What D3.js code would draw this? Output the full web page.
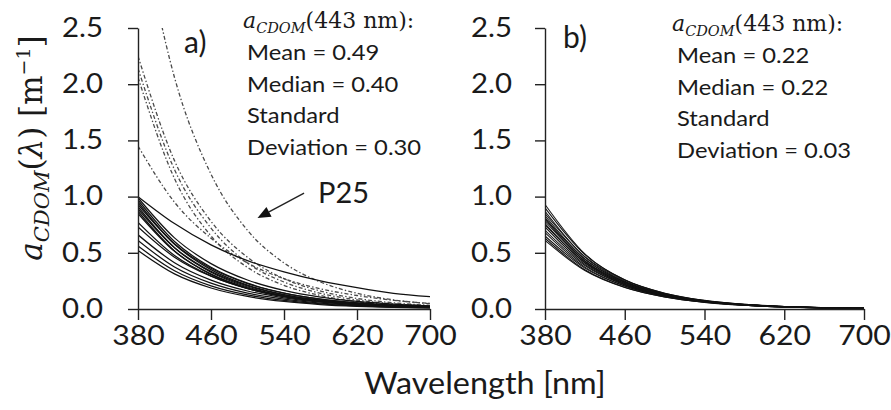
<!DOCTYPE html>
<html><head><meta charset="utf-8">
<script src="https://cdn.jsdelivr.net/npm/d3@7"></script>
<style>body{margin:0;background:#fff}</style>
</head><body>
<svg id="chart" width="891" height="410"></svg>
<script>
// ---------- data ----------
const wavelengths = [380, 420, 460, 500, 540, 580, 620, 660, 700];
const xTickValues = [380, 460, 540, 620, 700];
const yTickValues = [0, 0.5, 1, 1.5, 2, 2.5];

const p25Curve = [1.00, 0.76, 0.57, 0.43, 0.33, 0.25, 0.19, 0.14, 0.11];

const panelASolid = [
  [0.99, 0.633, 0.404, 0.258, 0.165, 0.105, 0.067, 0.043, 0.028],
  [0.97, 0.600, 0.371, 0.230, 0.142, 0.088, 0.054, 0.034, 0.021],
  [0.95, 0.576, 0.350, 0.212, 0.129, 0.078, 0.047, 0.029, 0.017],
  [0.93, 0.580, 0.362, 0.226, 0.141, 0.088, 0.055, 0.034, 0.021],
  [0.91, 0.545, 0.327, 0.196, 0.117, 0.070, 0.042, 0.025, 0.015],
  [0.89, 0.546, 0.335, 0.206, 0.126, 0.078, 0.048, 0.029, 0.018],
  [0.87, 0.517, 0.308, 0.183, 0.109, 0.065, 0.038, 0.023, 0.014],
  [0.85, 0.513, 0.310, 0.187, 0.113, 0.068, 0.041, 0.025, 0.015],
  [0.77, 0.476, 0.295, 0.182, 0.113, 0.070, 0.043, 0.027, 0.017],
  [0.73, 0.461, 0.291, 0.184, 0.116, 0.073, 0.046, 0.029, 0.018],
  [0.66, 0.412, 0.257, 0.160, 0.100, 0.062, 0.039, 0.024, 0.015],
  [0.61, 0.374, 0.230, 0.141, 0.087, 0.053, 0.033, 0.020, 0.012],
  [0.56, 0.340, 0.206, 0.125, 0.076, 0.046, 0.028, 0.017, 0.010],
  [0.52, 0.312, 0.187, 0.112, 0.067, 0.040, 0.024, 0.014, 0.009]
];

const panelADashed = [
  [3.54, 2.06, 1.20, 0.70, 0.41, 0.24, 0.14, 0.081, 0.047],
  [2.25, 1.32, 0.78, 0.46, 0.27, 0.16, 0.094, 0.055, 0.032],
  [2.14, 1.24, 0.72, 0.41, 0.24, 0.14, 0.080, 0.046, 0.027],
  [2.06, 1.16, 0.65, 0.37, 0.21, 0.12, 0.065, 0.037, 0.021],
  [1.45, 0.95, 0.63, 0.41, 0.27, 0.18, 0.12, 0.077, 0.050]
];

const panelBCurves = [
  [0.93, 0.490, 0.259, 0.136, 0.072, 0.038, 0.020, 0.011, 0.006],
  [0.90, 0.484, 0.260, 0.140, 0.075, 0.041, 0.022, 0.012, 0.006],
  [0.87, 0.462, 0.246, 0.131, 0.069, 0.037, 0.020, 0.010, 0.006],
  [0.85, 0.466, 0.256, 0.141, 0.077, 0.042, 0.023, 0.013, 0.007],
  [0.83, 0.446, 0.240, 0.129, 0.069, 0.037, 0.020, 0.011, 0.006],
  [0.81, 0.441, 0.240, 0.131, 0.071, 0.039, 0.021, 0.012, 0.006],
  [0.80, 0.425, 0.226, 0.120, 0.064, 0.034, 0.018, 0.010, 0.005],
  [0.78, 0.428, 0.235, 0.129, 0.071, 0.039, 0.021, 0.012, 0.006],
  [0.76, 0.409, 0.220, 0.118, 0.064, 0.034, 0.018, 0.010, 0.005],
  [0.75, 0.415, 0.230, 0.127, 0.070, 0.039, 0.022, 0.012, 0.007],
  [0.73, 0.397, 0.216, 0.118, 0.064, 0.035, 0.019, 0.010, 0.006],
  [0.70, 0.387, 0.214, 0.119, 0.066, 0.036, 0.020, 0.011, 0.006],
  [0.68, 0.373, 0.205, 0.112, 0.062, 0.034, 0.019, 0.010, 0.006],
  [0.65, 0.364, 0.204, 0.114, 0.064, 0.036, 0.020, 0.011, 0.006],
  [0.63, 0.349, 0.193, 0.107, 0.059, 0.033, 0.018, 0.010, 0.006],
  [0.61, 0.342, 0.191, 0.107, 0.060, 0.034, 0.019, 0.010, 0.006]
];

const statsA = ["Mean = 0.49", "Median = 0.40", "Standard", "Deviation = 0.30"];
const statsB = ["Mean = 0.22", "Median = 0.22", "Standard", "Deviation = 0.03"];
const statsHeader = ["a", "CDOM", "(443 nm):"];
const panelLabels = ["a)", "b)"];
const xAxisTitle = "Wavelength [nm]";
const p25Label = "P25";
const p25ArrowTip = [511, 0.81];
const p25ArrowTail = [562, 1.03];

// ---------- drawing ----------
const SANS = "Lato, 'Open Sans', sans-serif";
const SERIF = "'DejaVu Serif', 'Liberation Serif', serif";
const INK = "#1a1a1a";
const svg = d3.select("#chart");

function stretch(sel, k) {
  sel.each(function () {
    const n = this;
    const L = n.getComputedTextLength();
    d3.select(n).attr("textLength", L * k).attr("lengthAdjust", "spacingAndGlyphs");
  });
}

const panels = [
  { left: 138, right: 430, label: panelLabels[0], labelX: 184, labelY: 53,
    solid: panelASolid, dashed: panelADashed, p25: true,
    stats: statsA, headX: 243, headY: 28, statX: 247, statY: 60, tickPad: 25, lw: 1.25 },
  { left: 545, right: 864, label: panelLabels[1], labelX: 563, labelY: 48,
    solid: panelBCurves, dashed: [], p25: false,
    stats: statsB, headX: 672, headY: 31, statX: 677, statY: 63, tickPad: 23, lw: 1.05 }
];

const defs = svg.append("defs");

panels.forEach((p, pi) => {
  const x = d3.scaleLinear().domain([380, 700]).range([p.left, p.right]);
  const y = d3.scaleLinear().domain([0, 2.5]).range([309, 28]);

  const clipId = "clip" + pi;
  defs.append("clipPath").attr("id", clipId).append("rect")
    .attr("x", x(380)).attr("y", y(2.5)).attr("width", x(700) - x(380)).attr("height", y(0) - y(2.5) + 2);

  const line = d3.line()
    .x((d, i) => x(wavelengths[i]))
    .y(d => y(d))
    .curve(d3.curveMonotoneX);

  const plot = svg.append("g").attr("clip-path", `url(#${clipId})`);

  plot.selectAll("path.dash").data(p.dashed).join("path")
    .attr("class", "dash")
    .attr("d", line)
    .attr("fill", "none")
    .attr("stroke", "#4a4a4a")
    .attr("stroke-width", 1.3)
    .attr("stroke-dasharray", "4,2.2,1.4,2.2");

  plot.selectAll("path.solid").data(p.solid).join("path")
    .attr("class", "solid")
    .attr("d", line)
    .attr("fill", "none")
    .attr("stroke", "#111")
    .attr("stroke-width", p.lw);

  if (p.p25) {
    plot.append("path").datum(p25Curve)
      .attr("d", line).attr("fill", "none").attr("stroke", "#111").attr("stroke-width", 1.25);
  }

  // axes
  const gy = svg.append("g").attr("transform", `translate(${x(380)},0)`)
    .call(d3.axisLeft(y).tickValues(yTickValues).tickSize(10).tickSizeOuter(0)
      .tickPadding(p.tickPad).tickFormat(d3.format(".1f")));
  const gx = svg.append("g").attr("transform", `translate(0,${y(0)})`)
    .call(d3.axisBottom(x).tickValues(xTickValues).tickSize(11).tickSizeOuter(0)
      .tickPadding(7).tickFormat(d3.format("d")));
  [gy, gx].forEach(g => {
    g.select(".domain").attr("stroke", "#222").attr("stroke-width", 1.4);
    g.selectAll(".tick line").attr("stroke", "#222").attr("stroke-width", 1.4);
    g.selectAll(".tick text").attr("font-family", SANS).attr("font-size", 26).attr("fill", INK);
  });
  stretch(gy.selectAll(".tick text"), 1.13);
  stretch(gx.selectAll(".tick text"), 1.16);

  // panel letter
  svg.append("text").attr("x", p.labelX).attr("y", p.labelY)
    .attr("font-family", SANS).attr("font-size", 30).attr("fill", INK).text(p.label);

  // statistics header a_CDOM(443 nm):
  const hd = svg.append("text").attr("x", p.headX).attr("y", p.headY)
    .attr("font-family", SERIF).attr("font-size", 22).attr("fill", INK);
  hd.append("tspan").attr("font-style", "italic").text(statsHeader[0]);
  hd.append("tspan").attr("font-style", "italic").attr("font-size", 14.5).attr("dy", 5).text(statsHeader[1]);
  hd.append("tspan").attr("dy", -5).text(statsHeader[2]);

  const st = svg.append("g").selectAll("text").data(p.stats).join("text")
    .attr("x", p.statX).attr("y", (d, i) => p.statY + i * 31.7)
    .attr("font-family", SANS).attr("font-size", 22).attr("fill", INK)
    .text(d => d);
  stretch(st, 1.08);

  if (p.p25) {
    svg.append("text").attr("x", 318).attr("y", 203)
      .attr("font-family", SANS).attr("font-size", 29).attr("fill", INK).text(p25Label);
    const tip = [x(p25ArrowTip[0]), y(p25ArrowTip[1])];
    const tail = [x(p25ArrowTail[0]), y(p25ArrowTail[1])];
    const ang = Math.atan2(tip[1] - tail[1], tip[0] - tail[0]);
    const hl = 13, hw = 5.5;
    const base = [tip[0] - hl * Math.cos(ang), tip[1] - hl * Math.sin(ang)];
    svg.append("line").attr("x1", tail[0]).attr("y1", tail[1]).attr("x2", base[0]).attr("y2", base[1])
      .attr("stroke", "#222").attr("stroke-width", 1.4);
    svg.append("path")
      .attr("d", d3.line()([
        tip,
        [base[0] - hw * Math.sin(ang), base[1] + hw * Math.cos(ang)],
        [base[0] + hw * Math.sin(ang), base[1] - hw * Math.cos(ang)]
      ]) + "Z")
      .attr("fill", "#111");
  }
});

// x-axis title
const xt = svg.append("text").attr("x", 485).attr("y", 394).attr("text-anchor", "middle")
  .attr("font-family", SANS).attr("font-size", 30).attr("fill", INK).text(xAxisTitle);
stretch(xt, 1.08);

// y-axis title: a_CDOM(λ) [m^-1]
const yt = svg.append("text").attr("transform", "translate(42,148) rotate(-90)")
  .attr("text-anchor", "middle").attr("font-family", SERIF).attr("font-size", 31).attr("fill", INK);
yt.append("tspan").attr("font-style", "italic").text("a");
yt.append("tspan").attr("font-style", "italic").attr("font-size", 21).attr("dy", 7).text("CDOM");
yt.append("tspan").attr("dy", -7).text("(");
yt.append("tspan").attr("font-style", "italic").text("λ");
yt.append("tspan").text(") [m");
yt.append("tspan").attr("font-size", 19).attr("dy", -12).text("−1");
yt.append("tspan").attr("dy", 12).text("]");
</script>
</body></html>
